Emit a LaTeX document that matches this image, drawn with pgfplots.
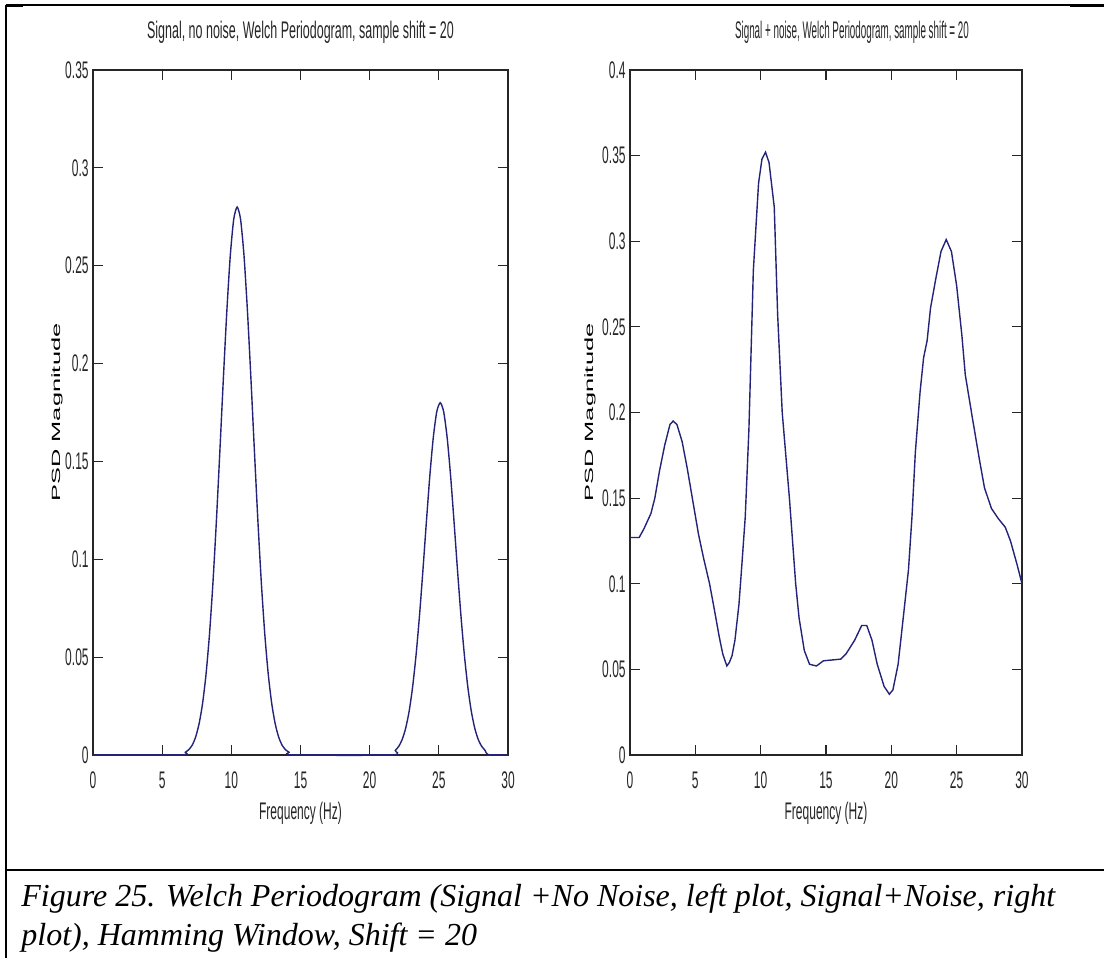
\documentclass[border=0pt]{standalone}
\usepackage{fontspec}
\setmainfont{Liberation Serif}
\newfontfamily\cond[FakeStretch=0.5]{Liberation Sans}
\newfontfamily\condA[FakeStretch=0.52]{Liberation Sans}
\newfontfamily\condB[FakeStretch=0.41]{Liberation Sans}
\newfontfamily\plain{Liberation Sans}
\usepackage{graphicx}
\usepackage{pgfplots}
\pgfplotsset{compat=1.18}
\definecolor{mline}{RGB}{35,35,120}
\pgfplotsset{
  mlab/.style={
    scale only axis,
    xmin=0, xmax=30, ymin=0,
    xtick={0,5,10,15,20,25,30},
    tick align=inside,
    major tick length=5pt,
    axis line style={line width=0.6pt, black!85},
    every tick/.style={black!85, line width=0.6pt},
    /pgf/number format/assume math mode=true,
    ticklabel style={font=\cond\fontsize{12}{13}\selectfont, text=black!85},
    yticklabel style={/pgf/number format/fixed, /pgf/number format/precision=2, anchor=east, inner sep=0pt, xshift=-2pt},
    xticklabel style={anchor=base, inner sep=0pt, yshift=-16.5pt},
    scaled y ticks=false,
    clip=false,
    xlabel={\cond\fontsize{12}{13}\selectfont Frequency (Hz)},
    xlabel style={at={(axis description cs:0.5,0)}, anchor=base, yshift=-32pt, inner sep=0pt, text=black!85},
    ylabel={\plain\fontsize{12.7}{14}\selectfont\scalebox{1}[0.47]{PSD Magnitude}},
    title style={at={(axis description cs:0.5,1)}, anchor=base, yshift=10pt, inner sep=0pt, text=black!85},
  }
}
\begin{document}
\begin{tikzpicture}
\path[use as bounding box] (0,0) rectangle (552pt,-479pt);
\draw[line width=0.9pt] (3pt,-2.5pt) -- (552pt,-2.5pt);
\draw[line width=1.4pt] (2.5pt,-3pt) -- (11.5pt,-3pt);
\draw[line width=1.4pt] (535pt,-3pt) -- (552pt,-3pt);
\draw[line width=0.9pt] (3pt,-2.5pt) -- (3pt,-479pt);
\draw[line width=1.1pt] (3pt,-435pt) -- (552pt,-435pt);
\node[anchor=base west, inner sep=0pt, font=\fontsize{16}{19}\selectfont\itshape] at (10.5pt,-453pt) {Figure 25. Welch Periodogram (Signal +No Noise, left plot, Signal+Noise, right};
\node[anchor=base west, inner sep=0pt, font=\fontsize{16}{19}\selectfont\itshape] at (10.5pt,-472.5pt) {plot), Hamming Window, Shift = 20};

\begin{axis}[mlab,
  at={(46.5pt,-377.5pt)}, anchor=south west,
  width=207.5pt, height=342.5pt,
  ymax=0.35,
  ytick={0,0.05,0.1,0.15,0.2,0.25,0.3,0.35},
  ylabel style={at={(axis description cs:-0.0867,0.5)}, anchor=center, inner sep=0pt},
  title={\condA\fontsize{12}{13}\selectfont Signal, no noise, Welch Periodogram, sample shift = 20},
]
\addplot[mline, line width=0.7pt, smooth, tension=0.4] coordinates {
(0,0) (6.4,0) (6.67,0.0014) (6.92,0.0027) (7.17,0.005) (7.42,0.0092) (7.67,0.016) (7.92,0.0263) (8.17,0.0412) (8.42,0.0616) (8.67,0.0879) (8.92,0.1196) (9.17,0.1551) (9.42,0.1918) (9.67,0.2262) (9.92,0.2548) (10.17,0.2736) (10.42,0.28) (10.67,0.2736) (10.92,0.2548) (11.17,0.2262) (11.42,0.1918) (11.67,0.1551) (11.92,0.1196) (12.17,0.0879) (12.42,0.0616) (12.67,0.0412) (12.92,0.0263) (13.17,0.016) (13.42,0.0092) (13.67,0.005) (13.92,0.0027) (14.17,0.0014) (14.42,0)
(21.6,0) (21.85,0.0023) (22.1,0.0044) (22.35,0.0079) (22.6,0.0136) (22.85,0.0222) (23.1,0.0345) (23.35,0.0508) (23.6,0.071) (23.85,0.0944) (24.1,0.1191) (24.35,0.1427) (24.6,0.1623) (24.85,0.1754) (25.1,0.18) (25.35,0.1754) (25.6,0.1623) (25.85,0.1427) (26.1,0.1191) (26.35,0.0944) (26.6,0.071) (26.85,0.0508) (27.1,0.0345) (27.35,0.0222) (27.6,0.0136) (27.85,0.0079) (28.1,0.0044) (28.35,0.0023) (28.6,0) (30,0)
};
\addplot[mline, line width=1.4pt] coordinates {(0,0) (6.5,0)};
\addplot[mline, line width=1.4pt] coordinates {(14.4,0) (21.7,0)};
\addplot[mline, line width=1.4pt] coordinates {(28.5,0) (30,0)};
\end{axis}

\begin{axis}[mlab,
  at={(315pt,-377.5pt)}, anchor=south west,
  width=196pt, height=342.5pt,
  ymax=0.4,
  ytick={0,0.05,0.1,0.15,0.2,0.25,0.3,0.35,0.4},
  ylabel style={at={(axis description cs:-0.102,0.5)}, anchor=center, inner sep=0pt},
  title style={xshift=13pt},
  title={\condB\fontsize{12}{13}\selectfont Signal + noise, Welch Periodogram, sample shift = 20},
]
\addplot[mline, line width=0.7pt] coordinates {
(0,0.127) (0.7,0.127) (1.06,0.132) (1.6,0.141) (1.9,0.15) (2.26,0.166) (2.66,0.181) (3.06,0.193) (3.3,0.195) (3.59,0.193) (3.99,0.183) (4.39,0.167) (4.77,0.15) (5.24,0.129) (5.63,0.115) (6.09,0.1) (6.43,0.086) (6.83,0.069) (7.1,0.059) (7.41,0.052) (7.6,0.054) (7.81,0.058) (8.03,0.067) (8.34,0.088) (8.56,0.111) (8.82,0.139) (9.1,0.19) (9.44,0.283) (9.84,0.334) (10.1,0.348) (10.37,0.352) (10.64,0.346) (11.04,0.32) (11.3,0.257) (11.65,0.2) (12.2,0.15) (12.68,0.1) (12.94,0.08) (13.34,0.061) (13.74,0.053) (14.27,0.052) (14.8,0.055) (15.6,0.0556) (16.13,0.056) (16.53,0.059) (17.19,0.067) (17.73,0.0756) (18.12,0.0756) (18.52,0.067) (18.92,0.053) (19.45,0.04) (19.85,0.0355) (20.12,0.038) (20.52,0.053) (20.91,0.08) (21.31,0.108) (21.58,0.139) (21.84,0.177) (22.2,0.212) (22.47,0.232) (22.74,0.242) (23.0,0.261) (23.4,0.278) (23.8,0.294) (24.2,0.301) (24.6,0.294) (25.0,0.274) (25.4,0.245) (25.66,0.222) (26.2,0.197) (26.73,0.173) (27.13,0.156) (27.66,0.144) (28.19,0.138) (28.72,0.133) (29.12,0.125) (29.63,0.111) (30,0.1)
};
\end{axis}
\end{tikzpicture}
\end{document}
